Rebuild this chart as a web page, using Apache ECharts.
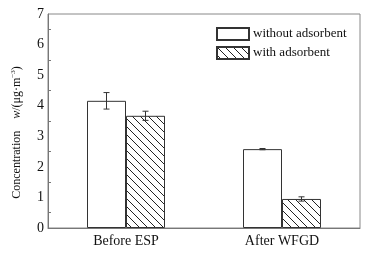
<!DOCTYPE html>
<html><head><meta charset="utf-8">
<script src="https://cdn.jsdelivr.net/npm/echarts@6/dist/echarts.min.js"></script>
<style>html,body{margin:0;padding:0;background:#fff}#c{width:371px;height:256px}</style>
</head><body><div id="c"></div>
<script>
const categories = ['Before ESP', 'After WFGD'];
const withoutAds = [4.16, 2.58];
const withAds = [3.67, 0.95];
const errWithout = [0.27, 0.02];
const errWith = [0.15, 0.07];
const yTicks = [0, 1, 2, 3, 4, 5, 6, 7];

function hatch() {
  const s = 8, cv = document.createElement('canvas');
  cv.width = s; cv.height = s;
  const g = cv.getContext('2d');
  g.fillStyle = '#fff'; g.fillRect(0, 0, s, s);
  g.strokeStyle = '#222'; g.lineWidth = 1;
  g.beginPath();
  g.moveTo(-1, -1); g.lineTo(s + 1, s + 1);
  g.moveTo(-1, s - 1); g.lineTo(1, s + 1);
  g.moveTo(s - 1, -1); g.lineTo(s + 1, 1);
  g.stroke();
  return cv;
}
const FONT = 'Liberation Serif';
const chart = echarts.init(document.getElementById('c'), null, {renderer: 'canvas'});

function errSeries(name, vals, errs, sign) {
  return {
    type: 'custom', name: name + '_err', silent: true, z: 5,
    data: vals.map((v, i) => [i, v, errs[i]]),
    renderItem: function (params, api) {
      const i = api.value(0), v = api.value(1), e = api.value(2);
      const band = api.size([1, 0])[0];
      const c = api.coord([i, v]);
      const x = c[0] + sign * band * 0.125;
      const yt = api.coord([i, v + e])[1], yb = api.coord([i, v - e])[1];
      const w = 3;
      const st = {stroke: '#333', lineWidth: 1};
      return {type: 'group', children: [
        {type: 'line', shape: {x1: x, y1: yt, x2: x, y2: yb}, style: st},
        {type: 'line', shape: {x1: x - w, y1: yt, x2: x + w, y2: yt}, style: st},
        {type: 'line', shape: {x1: x - w, y1: yb, x2: x + w, y2: yb}, style: st}
      ]};
    }
  };
}

chart.setOption({
  animation: false,
  backgroundColor: '#fff',
  textStyle: {fontFamily: FONT},
  grid: {left: 48, right: 11, top: 14, bottom: 28, show: true, borderColor: '#888', borderWidth: 1},
  legend: {
    data: ['without adsorbent', 'with adsorbent'],
    orient: 'vertical', left: 211, top: 22, itemGap: 5,
    itemWidth: 32, itemHeight: 12,
    textStyle: {fontFamily: FONT, fontSize: 13, color: '#111', padding: [0, 0, 0, -1]},
    icon: 'rect'
  },
  xAxis: {
    type: 'category', data: categories,
    axisLine: {lineStyle: {color: '#777'}},
    axisTick: {inside: true, length: 4, lineStyle: {color: '#777'}},
    axisLabel: {fontFamily: FONT, fontSize: 14, color: '#111', margin: 6}
  },
  yAxis: {
    type: 'value', min: yTicks[0], max: yTicks[yTicks.length - 1], interval: 1,
    name: '{t|Concentration    }{i|w}{t|/(μg·m}{s|−3}{t|)}',
    nameLocation: 'middle', nameGap: 25,
    nameTextStyle: {padding: [0, 0, 0, -23], rich: {
      t: {fontFamily: FONT, fontSize: 12, color: '#111'},
      i: {fontFamily: FONT, fontSize: 12, color: '#111', fontStyle: 'italic'},
      s: {fontFamily: FONT, fontSize: 7, color: '#111', verticalAlign: 'top', padding: [0, 0, 6, 0]}
    }},
    axisLine: {show: true, lineStyle: {color: '#777'}},
    axisTick: {inside: true, length: 5, lineStyle: {color: '#777'}},
    minorTick: {show: true, splitNumber: 2, length: 3, lineStyle: {color: '#777'}},
    splitLine: {show: false},
    axisLabel: {fontFamily: FONT, fontSize: 14, color: '#111', margin: 4}
  },
  series: [
    {name: 'without adsorbent', type: 'bar', data: withoutAds, barGap: '0%', barCategoryGap: '50%',
     itemStyle: {color: '#fff', borderColor: '#333', borderWidth: 1}},
    {name: 'with adsorbent', type: 'bar', data: withAds,
     itemStyle: {color: {image: hatch(), repeat: 'repeat'}, borderColor: '#333', borderWidth: 1}},
    errSeries('without', withoutAds, errWithout, -1),
    errSeries('with', withAds, errWith, 1)
  ]
});
</script></body></html>
